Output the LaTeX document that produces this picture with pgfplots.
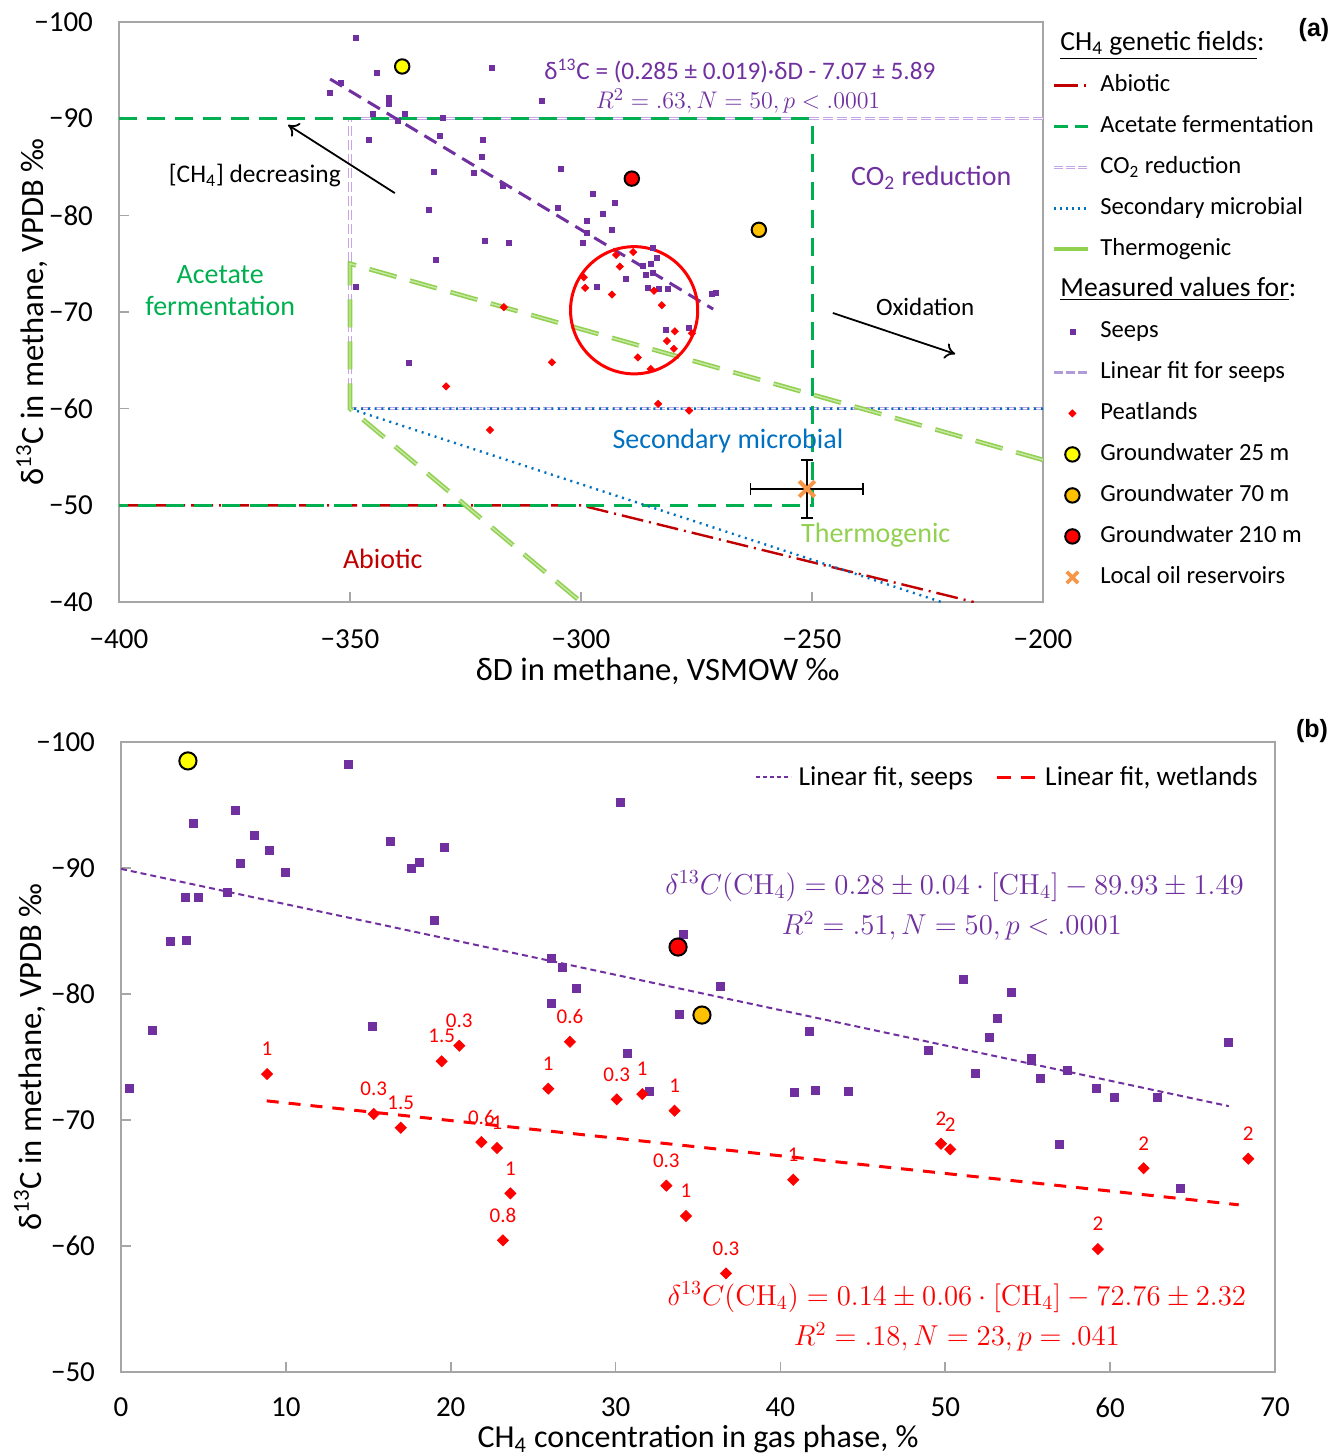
\documentclass[border=0pt]{standalone}
\usepackage[no-math]{fontspec}
\setmainfont{Carlito}
\newfontfamily\arialfont{Liberation Sans}
\usepackage{graphicx}
\usepackage{pgfplots}
\usepackage{pgfplotstable}
\pgfplotsset{compat=1.18}
\usetikzlibrary{arrows.meta}

\definecolor{seep}{HTML}{7030A0}
\definecolor{seeplt}{HTML}{B09AD8}
\definecolor{peat}{HTML}{FF0000}
\definecolor{abio}{HTML}{C00000}
\definecolor{acet}{HTML}{00B050}
\definecolor{cotwo}{HTML}{C4A6E6}
\definecolor{secm}{HTML}{0070C0}
\definecolor{thermo}{HTML}{92D050}
\definecolor{thermolt}{HTML}{C8E8A8}
\definecolor{gwy}{HTML}{FFFF00}
\definecolor{gwo}{HTML}{FFC000}
\definecolor{oil}{HTML}{F79646}
\definecolor{axgray}{HTML}{A6A6A6}

\pgfplotstableread{
x y
-348.7 -98.4
-344.2 -94.7
-319.3 -95.3
-351.9 -93.7
-354.3 -92.7
-341.6 -92.2
-341.6 -91.5
-308.4 -91.8
-345.0 -90.5
-338.1 -90.5
-339.6 -89.8
-329.9 -90.1
-345.9 -87.8
-330.5 -88.2
-321.2 -87.8
-321.4 -86.0
-331.8 -84.5
-323.2 -84.4
-316.9 -83.0
-304.3 -84.8
-332.9 -80.6
-305.0 -80.8
-320.8 -77.4
-315.6 -77.2
-299.6 -77.2
-331.4 -75.4
-348.7 -72.6
-337.2 -64.7
-297.4 -82.2
-292.6 -81.3
-295.2 -80.2
-298.7 -79.4
-293.3 -78.5
-298.7 -78.2
-284.4 -76.6
-283.6 -75.6
-284.9 -75.0
-286.6 -74.8
-285.9 -73.8
-284.4 -74.0
-290.3 -73.4
-296.5 -72.6
-285.5 -72.5
-283.1 -72.4
-281.2 -72.4
-271.6 -71.9
-270.8 -72.0
-281.6 -68.2
-276.6 -68.4
}\seepsA

\pgfplotstableread{
x y
-292.4 -75.9
-288.7 -76.2
-291.6 -74.7
-299.4 -73.6
-299.1 -72.5
-293.3 -71.8
-284.2 -72.2
-282.5 -70.7
-279.7 -68.0
-276.0 -67.8
-281.4 -67.0
-279.9 -66.2
-287.7 -65.3
-284.9 -64.1
-306.3 -64.8
-283.3 -60.5
-276.6 -59.8
-316.7 -70.5
-329.2 -62.3
-319.7 -57.8
}\peatA

\pgfplotstableread{
x y
13.81 -98.23
4.41 -93.57
6.96 -94.58
8.09 -92.56
8.98 -91.43
7.26 -90.34
9.99 -89.68
3.88 -87.70
4.67 -87.70
6.45 -88.10
3.01 -84.21
3.96 -84.29
1.88 -77.14
15.25 -77.40
16.34 -92.09
17.59 -90.00
18.10 -90.42
19.63 -91.67
19.01 -85.85
0.49 -72.49
30.29 -95.24
34.09 -84.71
26.08 -82.86
26.79 -82.12
27.64 -80.48
26.08 -79.23
33.85 -78.39
36.35 -80.63
41.77 -77.06
30.73 -75.26
32.07 -72.25
40.86 -72.17
42.13 -72.33
44.10 -72.25
51.09 -81.14
54.03 -80.13
53.18 -78.07
52.67 -76.53
48.99 -75.50
67.19 -76.17
55.20 -74.89
55.25 -74.70
51.80 -73.67
55.79 -73.33
57.38 -73.91
59.14 -72.51
60.27 -71.83
62.84 -71.80
56.92 -68.10
64.28 -64.55
}\seepsB

\pgfplotstableread{
x y lab
8.86 -73.65 1
15.33 -70.48 0.3
16.97 -69.39 1.5
19.45 -74.66 1.5
20.52 -75.90 0.3
21.86 -68.25 0.6
22.81 -67.78 1
23.62 -64.18 1
23.17 -60.45 0.8
27.23 -76.21 0.6
25.92 -72.49 1
30.07 -71.64 0.3
31.62 -72.06 1
33.58 -70.74 1
33.08 -64.79 0.3
34.27 -62.38 1
36.70 -57.83 0.3
40.78 -65.26 1
49.74 -68.12 2
50.30 -67.67 2
62.03 -66.17 2
59.26 -59.76 2
68.38 -66.93 2
}\peatB

\tikzset{
  abiostyle/.style={abio, line width=1.2pt, dash pattern=on 11pt off 3pt on 1pt off 3pt},
  acetstyle/.style={acet, line width=1.5pt, dash pattern=on 9pt off 5pt},
  cotwostyle/.style={draw=cotwo, line width=0.5pt, double=white, double distance=0.7pt, dash pattern=on 5pt off 2pt},
  secmstyle/.style={secm, line width=1.2pt, dash pattern=on 1pt off 2.4pt},
  thermostyle/.style={draw=thermo, line width=0.8pt, double=thermolt, double distance=0.7pt, dash pattern=on 14pt off 7pt},
}

\pgfplotsset{
  myaxis/.style={
    scale only axis,
    axis line style={axgray, line width=0.8pt},
    tick style={axgray, line width=0.8pt},
    tick align=inside, major tick length=5pt,
    xtick pos=left, ytick pos=left,
    y dir=reverse,
    tick label style={font=\fontsize{14.5}{17}\selectfont, black},
    xticklabel style={yshift=-10.5pt},
    yticklabel style={xshift=-9.5pt},
    label style={font=\fontsize{16.3}{19}\selectfont, black},
  },
}

\begin{document}
\begin{tikzpicture}
\useasboundingbox (0,0) rectangle (665.5pt,-728pt);

% ---------------- panel (a)
\begin{axis}[myaxis, at={(59.5pt,-11pt)}, anchor=north west, width=462pt, height=290pt,
  xmin=-400, xmax=-200, ymin=-100, ymax=-40,
  xtick={-400,-350,-300,-250,-200}, xticklabels={−400,−350,−300,−250,−200},
  ytick={-100,-90,-80,-70,-60,-50,-40}, yticklabels={−100,−90,−80,−70,−60,−50,−40},
  xlabel={δD in methane, VSMOW ‰},
  ylabel={δ\textsuperscript{13}C in methane, VPDB ‰},
  x label style={at={(axis description cs:0.583,-0.12)}, anchor=center},
  y label style={at={(axis description cs:-0.094,0.5)}, anchor=center},
  legend style={at={(axis description cs:1,1)}, anchor=north west, xshift=1.5pt, yshift=-2pt,
    draw=none, fill=none, font=\fontsize{12.3}{14}\selectfont, row sep=6.5pt, column sep=4pt,
    nodes={inner sep=1pt, text height=9pt, text depth=3pt}},
  legend cell align=left,
]
% genetic field lines
\addplot[abiostyle, mark=none, forget plot] coordinates {(-400,-50) (-300,-50) (-215,-40)};
\addplot[cotwostyle, mark=none, forget plot] coordinates {(-200,-90) (-350,-90) (-350,-60) (-200,-60)};
\addplot[acetstyle, mark=none, forget plot] coordinates {(-400,-90) (-250,-90) (-250,-50) (-400,-50)};
\addplot[secmstyle, mark=none, forget plot] coordinates {(-200,-60) (-350,-60) (-222,-40)};
\addplot[thermostyle, mark=none, forget plot] coordinates {(-200,-54.7) (-350,-75) (-350,-60) (-300,-40)};
% seeps fit
\addplot[seep, line width=1.5pt, dash pattern=on 7pt off 4pt, mark=none, forget plot] coordinates {(-354.3,-94.1) (-271.4,-70.3)};
% data
\addplot[only marks, mark=square*, mark size=1.25pt, seep, forget plot] table {\seepsA};
\addplot[only marks, mark=square*, mark size=1.25pt, mark options={rotate=45}, peat, forget plot] table {\peatA};
\addplot[only marks, mark=*, mark size=3.6pt, mark options={draw=black, fill=gwy, line width=1pt}, forget plot] coordinates {(-338.7,-95.4)};
\addplot[only marks, mark=*, mark size=3.6pt, mark options={draw=black, fill=gwo, line width=1pt}, forget plot] coordinates {(-261.5,-78.5)};
\addplot[only marks, mark=*, mark size=3.6pt, mark options={draw=black, fill=peat, line width=1pt}, forget plot] coordinates {(-289.0,-83.8)};
\addplot[only marks, mark=x, mark size=5.5pt, mark options={draw=oil, line width=2pt}, forget plot,
  error bars/.cd, x dir=both, x explicit, y dir=both, y explicit,
  error bar style={black, line width=0.6pt}, error mark options={black, line width=0.6pt, mark size=3pt, rotate=90}]
  coordinates {(-251.1,-51.7) +- (12.15,3.0)};

% circle around peatlands
\draw[peat, line width=1.5pt] (axis cs:-288.5,-70.18) circle[radius=31.8pt];

% annotations
\node[seep, font=\fontsize{12.6}{15}\selectfont] at (axis cs:-265.6,-94.93) {δ\textsuperscript{13}C = (0.285 ± 0.019)·δD - 7.07 ± 5.89};
\node[seep, font=\fontsize{12.8}{15}\selectfont] at (axis cs:-266.0,-91.83) {$R^2 = .63, N = 50, p < .0001$};
\node[font=\fontsize{12.7}{15}\selectfont] at (axis cs:-370.6,-84.07) {[CH\textsubscript{4}] decreasing};
\draw[-{To[length=5pt,width=8pt]}, line width=0.9pt] (axis cs:-340.3,-82.3) -- (axis cs:-363.4,-89.35);
\node[seep, font=\fontsize{14}{16}\selectfont] at (axis cs:-224.2,-83.86) {CO\textsubscript{2} reduction};
\node[acet, font=\fontsize{14}{17}\selectfont, align=center] at (axis cs:-378.1,-72.2) {Acetate\\[-1pt]fermentation};
\node[font=\fontsize{12.5}{15}\selectfont] at (axis cs:-225.5,-70.52) {Oxidation};
\draw[-{To[length=5pt,width=8pt]}, line width=0.9pt] (axis cs:-245.5,-69.9) -- (axis cs:-219.0,-65.66);
\node[secm, font=\fontsize{14}{16}\selectfont] at (axis cs:-268.2,-56.66) {Secondary microbial};
\node[thermo, font=\fontsize{14}{16}\selectfont] at (axis cs:-236.2,-46.9) {Thermogenic};
\node[abio, font=\fontsize{14}{16}\selectfont] at (axis cs:-342.9,-44.45) {Abiotic};

% legend
\addlegendimage{empty legend}
\addlegendentry{\hspace*{-20pt}{\fontsize{13.8}{16}\selectfont\underline{CH\textsubscript{4} genetic fields}:}}
\addlegendimage{legend image code/.code={\draw[abio, line width=1.2pt, dash pattern=on 12pt off 3pt on 1pt off 5pt] (0pt,0pt) -- (17pt,0pt);}}
\addlegendentry{Abiotic}
\addlegendimage{legend image code/.code={\draw[acet, line width=1.5pt, dash pattern=on 7pt off 3.5pt] (0pt,0pt) -- (17pt,0pt);}}
\addlegendentry{Acetate fermentation}
\addlegendimage{legend image code/.code={\draw[draw=cotwo, line width=0.5pt, double=white, double distance=0.7pt, dash pattern=on 4.5pt off 1.5pt] (0pt,0pt) -- (17pt,0pt);}}
\addlegendentry{CO\textsubscript{2} reduction}
\addlegendimage{legend image code/.code={\draw[secm, line width=1.1pt, dash pattern=on 1pt off 2pt] (0pt,0pt) -- (17pt,0pt);}}
\addlegendentry{Secondary microbial}
\addlegendimage{legend image code/.code={\draw[thermo, line width=2pt] (0pt,0pt) -- (17pt,0pt);}}
\addlegendentry{Thermogenic}
\addlegendimage{empty legend}
\addlegendentry{\hspace*{-20pt}{\fontsize{13.8}{16}\selectfont\underline{Measured values for}:}}
\addlegendimage{legend image code/.code={\draw[seep, mark=square*, mark size=1.25pt] plot coordinates {(9pt,0pt)};}}
\addlegendentry{Seeps}
\addlegendimage{legend image code/.code={\draw[seeplt, line width=1.3pt, dash pattern=on 4.5pt off 1.5pt] (0pt,0pt) -- (17pt,0pt);}}
\addlegendentry{Linear fit for seeps}
\addlegendimage{legend image code/.code={\draw[peat, mark=square*, mark size=1.25pt, mark options={rotate=45}] plot coordinates {(9pt,0pt)};}}
\addlegendentry{Peatlands}
\addlegendimage{legend image code/.code={\draw[mark=*, mark size=3.6pt, mark options={draw=black, fill=gwy, line width=1pt}] plot coordinates {(9pt,0pt)};}}
\addlegendentry{Groundwater 25 m}
\addlegendimage{legend image code/.code={\draw[mark=*, mark size=3.6pt, mark options={draw=black, fill=gwo, line width=1pt}] plot coordinates {(9pt,0pt)};}}
\addlegendentry{Groundwater 70 m}
\addlegendimage{legend image code/.code={\draw[mark=*, mark size=3.6pt, mark options={draw=black, fill=peat, line width=1pt}] plot coordinates {(9pt,0pt)};}}
\addlegendentry{Groundwater 210 m}
\addlegendimage{legend image code/.code={\draw[mark=x, mark size=4pt, mark options={draw=oil, line width=1.8pt}] plot coordinates {(9pt,0pt)};}}
\addlegendentry{Local oil reservoirs}
\end{axis}

% ---------------- panel (b)
\begin{axis}[myaxis, at={(60.5pt,-371pt)}, anchor=north west, width=577pt, height=315pt,
  xmin=0, xmax=70, ymin=-100, ymax=-50,
  xtick={0,10,20,30,40,50,60,70}, xticklabels={0,10,20,30,40,50,60,70},
  xticklabel style={inner sep=1pt, yshift=-1.3pt},
  ytick={-100,-90,-80,-70,-60,-50}, yticklabels={−100,−90,−80,−70,−60,−50},
  xlabel={CH\textsubscript{4} concentration in gas phase, \%},
  ylabel={δ\textsuperscript{13}C in methane, VPDB ‰},
  x label style={at={(axis description cs:0.5,-0.106)}, anchor=center, inner sep=0pt, font=\fontsize{16}{19}\selectfont},
  y label style={at={(axis description cs:-0.079,0.5)}, anchor=center},
  legend columns=2,
  legend style={at={(axis description cs:1,1)}, anchor=north east, xshift=-3.5pt, yshift=-8pt,
    draw=none, fill=none, font=\fontsize{13.7}{16}\selectfont, column sep=1.5pt,
    /tikz/every even column/.append style={column sep=9pt}},
]
\addplot[seep, line width=1pt, dash pattern=on 3pt off 2pt, mark=none, forget plot] coordinates {(0,-89.93) (67.2,-71.1)};
\addplot[peat, line width=1.5pt, dash pattern=on 6pt off 5pt, mark=none, forget plot] coordinates {(8.84,-71.52) (67.8,-63.27)};
\addplot[only marks, mark=square*, mark size=2pt, seep, forget plot] table {\seepsB};
\addplot[only marks, mark=square*, mark size=1.95pt, mark options={rotate=45}, peat, forget plot,
  nodes near coords, point meta=explicit symbolic, nodes near coords align={center},
  every node near coord/.append style={peat, font=\fontsize{10.5}{12}\selectfont, anchor=center, inner sep=0pt, yshift=12.5pt}]
  table[meta=lab] {\peatB};
\addplot[only marks, mark=*, mark size=4.3pt, mark options={draw=black, fill=gwy, line width=1pt}, forget plot] coordinates {(4.06,-98.5)};
\addplot[only marks, mark=*, mark size=4.3pt, mark options={draw=black, fill=gwo, line width=1pt}, forget plot] coordinates {(35.24,-78.33)};
\addplot[only marks, mark=*, mark size=4.3pt, mark options={draw=black, fill=peat, line width=1pt}, forget plot] coordinates {(33.79,-83.73)};

\node[seep, font=\fontsize{14.3}{17}\selectfont] at (axis cs:50.56,-88.57) {$\delta^{13}C(\mathrm{CH_4}) = 0.28 \pm 0.04\cdot[\mathrm{CH_4}] - 89.93 \pm 1.49$};
\node[seep, font=\fontsize{14.3}{17}\selectfont] at (axis cs:50.4,-85.4) {$R^2 = .51, N = 50, p < .0001$};
\node[peat, font=\fontsize{14.3}{17}\selectfont] at (axis cs:50.7,-55.95) {$\delta^{13}C(\mathrm{CH_4}) = 0.14 \pm 0.06\cdot[\mathrm{CH_4}] - 72.76 \pm 2.32$};
\node[peat, font=\fontsize{14.3}{17}\selectfont] at (axis cs:50.7,-52.78) {$R^2 = .18, N = 23, p = .041$};

\addlegendimage{legend image code/.code={\draw[seep, line width=1pt, dash pattern=on 2.2pt off 1.3pt] (0pt,0pt) -- (17.5pt,0pt);}}
\addlegendentry{Linear fit, seeps}
\addlegendimage{legend image code/.code={\draw[peat, line width=1.6pt, dash pattern=on 7pt off 5pt] (0pt,0pt) -- (20pt,0pt);}}
\addlegendentry{Linear fit, wetlands}
\end{axis}

\node[font=\arialfont\bfseries\fontsize{12.5}{14}\selectfont] at (657pt,-15pt) {(a)};
\node[font=\arialfont\bfseries\fontsize{12.5}{14}\selectfont] at (656pt,-365.5pt) {(b)};
\end{tikzpicture}
\end{document}
